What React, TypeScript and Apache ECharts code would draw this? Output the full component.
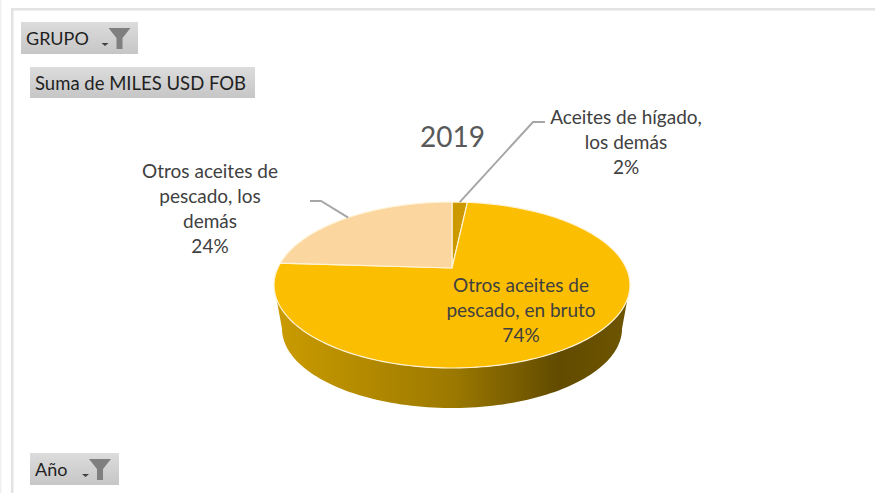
import React, { useEffect, useRef } from "react";
import * as echarts from "echarts";

const sliceNames = ["Aceites de hígado,\nlos demás", "Otros aceites de\npescado, en bruto", "Otros aceites de\npescado, los\ndemás"];
const sliceValues = [1.7, 74.3, 24];
const sliceShown = [2, 74, 24];
const sliceColors = ["#CC9A00", "#FCBE00", "#FBD79F"];
const chartTitle = "2019";

const FONT = "Lato, Carlito, Calibri, sans-serif";
const labelAnchors = [[626, 104], [521, 272], [210, 158]];
const leaderElbows = [[[545, 122], [533, 122]], null, [[310, 201], [321, 201]]];

const top = { cx: 452, cy: 268, rx: 174.2, ry: 79.5 };
const bottom = { cx: 452, cy: 312.4, rx: 166.4, ry: 76 };
const K = 0.205;
const WALL_FROM = (Math.asin(K) * 180) / Math.PI;
const WALL_TO = 180 - WALL_FROM;

const project = (f: any, deg: number) => {
  const t = (deg * Math.PI) / 180;
  const d = 1 - K * Math.sin(t);
  return [f.cx + (f.rx * Math.cos(t)) / d, f.cy + (f.ry * Math.sin(t)) / d];
};
const arc = (f: any, a: number, b: number) => {
  const n = Math.max(2, Math.ceil(Math.abs(b - a) / 1.5));
  const pts: number[][] = [];
  for (let i = 0; i <= n; i++) pts.push(project(f, a + ((b - a) * i) / n));
  return pts;
};

const total = sliceValues.reduce((s, v) => s + v, 0);
const startOf = (i: number) => -90 + (360 * sliceValues.slice(0, i).reduce((s, v) => s + v, 0)) / total;
const endOf = (i: number) => startOf(i + 1);

const renderSlice = (params: any) => {
  const i = params.dataIndex;
  const a = startOf(i);
  const b = endOf(i);
  const children: any[] = [];
  const wa = Math.max(a, WALL_FROM);
  const wb = Math.min(b, WALL_TO);
  if (wb > wa) {
    children.push({
      type: "polygon",
      shape: { points: [...arc(top, wa, wb), ...arc(bottom, wb, wa)] },
      style: {
        fill: new echarts.graphic.LinearGradient(0, 0, 1, 0, [
          { offset: 0, color: "#CB9C00" },
          { offset: 0.5, color: "#9C7900" },
          { offset: 0.8, color: "#624B00" },
          { offset: 1, color: "#6E5500" },
        ]),
      },
    });
  }
  children.push({
    type: "polygon",
    shape: { points: [[top.cx, top.cy], ...arc(top, a, b)] },
    style: { fill: sliceColors[i], stroke: "#FFF3D6", lineWidth: 1.2, lineJoin: "round" },
  });
  const elbow = leaderElbows[i];
  if (elbow) {
    children.push({
      type: "polyline",
      shape: { points: [...elbow, project(top, (a + b) / 2)] },
      style: { fill: "none", stroke: "#A6A6A6", lineWidth: 2 },
    });
  }
  children.push({
    type: "text",
    x: labelAnchors[i][0],
    y: labelAnchors[i][1],
    style: {
      text: `${sliceNames[i]}\n${sliceShown[i]}%`,
      align: "center",
      verticalAlign: "top",
      font: `19px ${FONT}`,
      lineHeight: 25,
      fill: "#404040",
    },
  });
  return { type: "group", children };
};

const button = (x: number, y: number, w: number, h: number, label: string, textX: number, size: number) => ({
  type: "group",
  children: [
    {
      type: "rect",
      shape: { x, y, width: w, height: h },
      style: {
        fill: new echarts.graphic.LinearGradient(0, 0, 0, 1, [
          { offset: 0, color: "#DCDCDC" },
          { offset: 1, color: "#C6C6C6" },
        ]),
      },
    },
    {
      type: "text",
      x: textX,
      y: y + h / 2,
      style: { text: label, font: `${size}px ${FONT}`, fill: "#1F1F1F", align: "left", verticalAlign: "middle" },
    },
  ],
});

const funnel = (x: number, y: number) => ({
  type: "group",
  children: [
    {
      type: "polygon",
      shape: { points: [[x, y], [x + 22, y], [x + 14, y + 10], [x + 14, y + 21], [x + 8, y + 21], [x + 8, y + 10]] },
      style: { fill: "#7F7F7F" },
    },
    {
      type: "polygon",
      shape: { points: [[x - 7, y + 15], [x, y + 15], [x - 3.5, y + 18]] },
      style: { fill: "#404040" },
    },
  ],
});

export default function App() {
  const ref = useRef<HTMLDivElement>(null);
  useEffect(() => {
    const chart = echarts.init(ref.current!, undefined, { renderer: "svg" });
    chart.setOption({
      animation: false,
      backgroundColor: "#FFFFFF",
      series: [
        {
          type: "custom",
          coordinateSystem: "none",
          data: sliceValues,
          renderItem: renderSlice,
          silent: true,
        },
      ],
      title: {
        text: chartTitle,
        left: 415,
        top: 117,
        textStyle: { fontFamily: FONT, fontSize: 28, fontWeight: "normal", color: "#595959" },
      },
      graphic: [
        { type: "rect", shape: { x: 11, y: 8, width: 2.5, height: 485 }, style: { fill: "#E3E3E3" } },
        { type: "rect", shape: { x: 11, y: 8, width: 864, height: 2.5 }, style: { fill: "#E3E3E3" } },
        { type: "rect", shape: { x: 0, y: 0, width: 1.5, height: 493 }, style: { fill: "#EFEFEF" } },
        button(21, 22, 117, 32, "GRUPO", 26, 18),
        funnel(108.5, 28),
        button(30, 67, 225, 31, "Suma de MILES USD FOB", 35, 18.5),
        button(30, 453, 89, 32, "Año", 35, 18),
        funnel(89, 459),
      ],
    });
    return () => chart.dispose();
  }, []);
  return <div ref={ref} style={{ position: "absolute", left: 0, top: 0, width: 875, height: 493 }} />;
}
